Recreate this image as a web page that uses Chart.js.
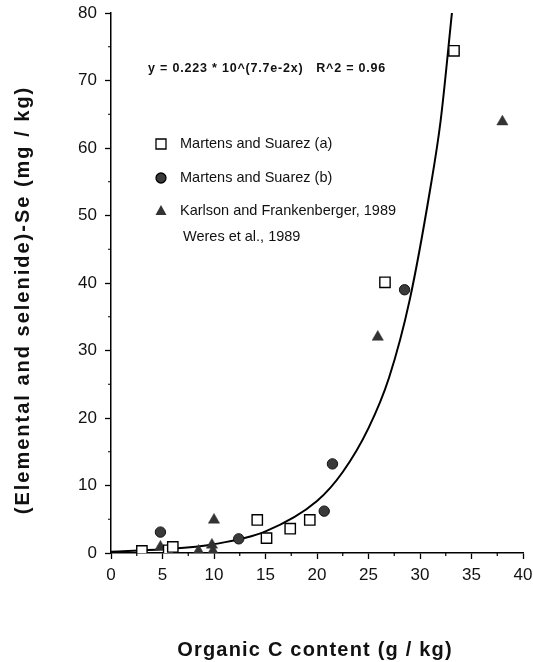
<!DOCTYPE html>
<html>
<head>
<meta charset="utf-8">
<title>Elemental and selenide Se vs organic C</title>
<script src="https://cdn.jsdelivr.net/npm/chart.js@4/dist/chart.umd.min.js"></script>
<style>
    html, body { margin: 0; padding: 0; background: #fff; }
    #seChart { display: block; }
</style>
</head>
<body>
<canvas id="seChart" width="533" height="662"></canvas>
<script>
// values: x = organic C (g/kg), y = Se (mg/kg)
var martensAX = [3.0, 5.6, 6.0, 14.2, 15.1, 17.4, 19.3, 26.6, 33.3];
var martensAY = [0.3, 0.4, 0.9, 4.9, 2.2, 3.6, 4.9, 40.1, 74.4];

var martensBX = [4.8, 12.4, 20.7, 21.5, 28.5];
var martensBY = [3.1, 2.1, 6.2, 13.2, 39.0];

var karlsonX = [4.8, 8.5, 9.8, 9.9, 10.0, 25.9, 38.0];
var karlsonY = [0.9, 0.3, 1.2, 0.3, 4.9, 32.0, 63.9];

// fitted curve as traced on the figure
var fitX = [0, 5, 10, 15, 20, 22.5, 25, 27, 29, 31, 32, 33.1];
var fitY = [0.2, 0.55, 1.3, 3.2, 7.7, 12, 18.5, 26, 37.5, 54, 64, 80];

var xTicks = [0, 5, 10, 15, 20, 25, 30, 35, 40];
var yTicks = [0, 10, 20, 30, 40, 50, 60, 70, 80];

var equationText = 'y = 0.223 * 10^(7.7e-2x)   R^2 = 0.96';
var xTitle = 'Organic C content (g / kg)';
var yTitle = '(Elemental and selenide)-Se (mg / kg)';
var fontFamily = "'Liberation Sans', Arial, Helvetica, sans-serif";

function toPoints(xs, ys) {
    return xs.map((x, i) => ({ x: x, y: ys[i] }));
}

// minor ticks, axis titles, equation text and in-plot legend
var decorations = {
    id: 'decorations',
    afterDraw: function(chart) {
        var ctx = chart.ctx;
        var xs = chart.scales.x, ys = chart.scales.y;
        var area = chart.chartArea;
        ctx.save();
        ctx.strokeStyle = '#000';
        ctx.lineWidth = 1.2;
        ctx.beginPath();
        for (var v = 2.5; v < 40; v += 5) {
            var px = xs.getPixelForValue(v);
            ctx.moveTo(px, area.bottom);
            ctx.lineTo(px, area.bottom + 3);
        }
        for (var w = 5; w < 80; w += 10) {
            var py = ys.getPixelForValue(w);
            ctx.moveTo(area.left, py);
            ctx.lineTo(area.left - 3, py);
        }
        ctx.stroke();

        ctx.fillStyle = '#111';
        ctx.textBaseline = 'middle';

        // axis titles (spaced out like the original typesetting)
        ctx.textAlign = 'center';
        ctx.font = 'bold 20px ' + fontFamily;
        ctx.letterSpacing = '1.2px';
        ctx.fillText(xTitle, 315, 650);
        ctx.save();
        ctx.translate(23, 300);
        ctx.rotate(-Math.PI / 2);
        ctx.letterSpacing = '2px';
        ctx.fillText(yTitle, 0, 0);
        ctx.restore();

        ctx.textAlign = 'left';
        ctx.font = 'bold 12.5px ' + fontFamily;
        ctx.letterSpacing = '0.8px';
        ctx.fillText(equationText, 148, 69);

        ctx.letterSpacing = '0px';
        ctx.font = '14.5px ' + fontFamily;
        var rows = [144, 178, 211, 237];
        chart.data.datasets.forEach(function(ds) {
            if (!ds.showInLegend) return;
            var y = rows[ds.legendRow];
            var mx = 161;
            ctx.lineWidth = 1.3;
            ctx.strokeStyle = '#000';
            ctx.fillStyle = ds.backgroundColor;
            ctx.beginPath();
            if (ds.pointStyle === 'rect') {
                ctx.rect(mx - 5, y - 5, 10, 10);
                ctx.fill(); ctx.stroke();
            } else if (ds.pointStyle === 'circle') {
                ctx.arc(mx, y, 5, 0, Math.PI * 2);
                ctx.fill(); ctx.stroke();
            } else if (ds.pointStyle === 'triangle') {
                ctx.moveTo(mx, y - 6);
                ctx.lineTo(mx + 5.5, y + 4);
                ctx.lineTo(mx - 5.5, y + 4);
                ctx.closePath();
                ctx.fill();
            }
            ctx.fillStyle = '#111';
            ctx.fillText(ds.label, ds.pointStyle ? 180 : 183, y);
        });
        ctx.restore();
    }
};

document.addEventListener("DOMContentLoaded", function() {
    var ctx = document.getElementById('seChart').getContext('2d');
    var seChart = new Chart(ctx, {
        type: 'scatter',
        data: {
            datasets: [{
                label: 'Martens and Suarez (a)',
                data: toPoints(martensAX, martensAY),
                pointStyle: 'rect',
                pointRadius: 7.3,
                backgroundColor: '#fff',
                borderColor: '#000',
                borderWidth: 1.4,
                showInLegend: true,
                legendRow: 0
            }, {
                label: 'Martens and Suarez (b)',
                data: toPoints(martensBX, martensBY),
                pointStyle: 'circle',
                pointRadius: 5.2,
                backgroundColor: '#3a3a3a',
                borderColor: '#111',
                borderWidth: 1,
                showInLegend: true,
                legendRow: 1
            }, {
                label: 'Karlson and Frankenberger, 1989',
                data: toPoints(karlsonX, karlsonY),
                pointStyle: 'triangle',
                pointRadius: 6.5,
                backgroundColor: '#333',
                borderColor: '#333',
                borderWidth: 0.5,
                showInLegend: true,
                legendRow: 2
            }, {
                label: 'Weres et al., 1989',
                data: [],
                pointStyle: false,
                backgroundColor: '#333',
                showInLegend: true,
                legendRow: 3
            }, {
                type: 'line',
                label: 'fit',
                data: toPoints(fitX, fitY),
                borderColor: '#000',
                borderWidth: 2,
                pointRadius: 0,
                fill: false,
                cubicInterpolationMode: 'monotone',
                showInLegend: false
            }]
        },
        options: {
            responsive: false,
            animation: false,
            layout: { padding: { left: 0, top: 13, right: 10, bottom: 0 } },
            plugins: {
                legend: { display: false },
                tooltip: { enabled: false }
            },
            scales: {
                x: {
                    type: 'linear',
                    min: 0,
                    max: 40,
                    afterFit: function(s) { s.height = 109; s.paddingLeft = 0; s.paddingRight = 0; },
                    afterBuildTicks: function(s) { s.ticks = xTicks.map(v => ({ value: v })); },
                    border: { color: '#000', width: 1.5 },
                    grid: { drawOnChartArea: false, tickLength: 6, tickColor: '#000', tickWidth: 1.3 },
                    ticks: { color: '#111', padding: 6, font: { family: fontFamily, size: 17 } }
                },
                y: {
                    type: 'linear',
                    min: 0,
                    max: 80,
                    afterFit: function(s) { s.width = 111; s.paddingTop = 0; s.paddingBottom = 0; },
                    afterBuildTicks: function(s) { s.ticks = yTicks.map(v => ({ value: v })); },
                    border: { color: '#000', width: 1.5 },
                    grid: { drawOnChartArea: false, tickLength: 6, tickColor: '#000', tickWidth: 1.3 },
                    ticks: { color: '#111', padding: 8, font: { family: fontFamily, size: 17 } }
                }
            }
        },
        plugins: [decorations]
    });
});
</script>
</body>
</html>
